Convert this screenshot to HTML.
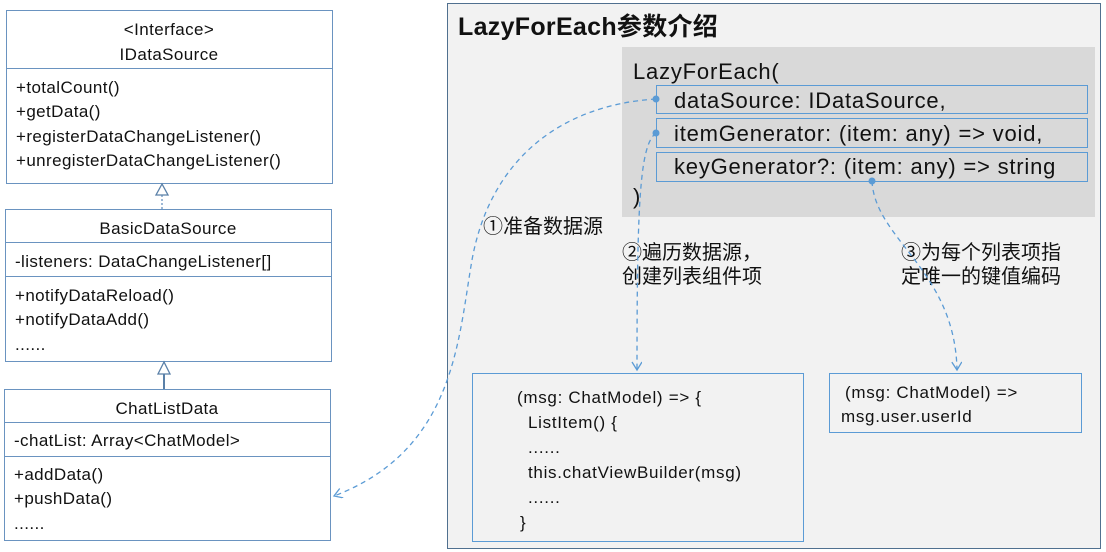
<!DOCTYPE html>
<html><head><meta charset="utf-8"><style>
html,body{margin:0;padding:0;background:#fff;width:1106px;height:552px;overflow:hidden}
svg{position:absolute;left:0;top:0}
text{font-family:"Liberation Sans","Noto Sans CJK SC",sans-serif;fill:#111}
</style></head><body>
<svg width="1106" height="552" viewBox="0 0 1106 552">
<defs>
<marker id="ar" markerWidth="12" markerHeight="12" refX="9" refY="5" orient="auto" markerUnits="userSpaceOnUse">
<path d="M1,0 L9,5 L1,10" fill="none" stroke="#5b9bd5" stroke-width="1.3"/></marker>
</defs>
<g stroke="#6a93c0" stroke-width="1" fill="#fff">
<rect x="6.5" y="10.5" width="326" height="173"/>
<line x1="6" y1="68.5" x2="332" y2="68.5"/>
<rect x="5.5" y="209.5" width="326" height="152"/>
<line x1="5" y1="242.5" x2="331" y2="242.5"/>
<line x1="5" y1="276.5" x2="331" y2="276.5"/>
<rect x="4.5" y="389.5" width="326" height="151"/>
<line x1="4" y1="422.5" x2="330" y2="422.5"/>
<line x1="4" y1="456.5" x2="330" y2="456.5"/>
</g>
<line x1="162" y1="195" x2="162" y2="209" stroke="#6a93c0" stroke-width="1.3" stroke-dasharray="2,2"/>
<path d="M162,184 L156,195 L168,195 Z" fill="#fff" stroke="#5a80a8" stroke-width="1.3"/>
<line x1="164" y1="374" x2="164" y2="389" stroke="#5a80a8" stroke-width="2"/>
<path d="M164,362 L158,374 L170,374 Z" fill="#fff" stroke="#5a80a8" stroke-width="1.3"/>
<g font-size="17" letter-spacing="0.4">
<text x="169" y="35" text-anchor="middle">&lt;Interface&gt;</text>
<text x="169" y="60" text-anchor="middle">IDataSource</text>
<text x="16" y="93">+totalCount()</text>
<text x="16" y="117">+getData()</text>
<text x="16" y="142">+registerDataChangeListener()</text>
<text x="16" y="166">+unregisterDataChangeListener()</text>
<text x="168" y="234" text-anchor="middle">BasicDataSource</text>
<text x="15" y="267">-listeners: DataChangeListener[]</text>
<text x="15" y="301">+notifyDataReload()</text>
<text x="15" y="325">+notifyDataAdd()</text>
<text x="15" y="350">......</text>
<text x="167" y="414" text-anchor="middle">ChatListData</text>
<text x="14" y="446">-chatList: Array&lt;ChatModel&gt;</text>
<text x="14" y="480">+addData()</text>
<text x="14" y="504">+pushData()</text>
<text x="14" y="529">......</text>
</g>
<rect x="447.5" y="3.5" width="653" height="545" fill="#f2f2f2" stroke="#50708f" stroke-width="1"/>
<text x="458" y="35" font-size="25" font-weight="bold" letter-spacing="0.3">LazyForEach参数介绍</text>
<rect x="622" y="47" width="473" height="170" fill="#d9d9d9"/>
<g stroke="#5b9bd5" stroke-width="1" fill="none">
<rect x="656.5" y="85.5" width="431" height="28"/>
<rect x="656.5" y="118.5" width="431" height="29"/>
<rect x="656.5" y="152.5" width="431" height="29"/>
</g>
<g font-size="22" letter-spacing="0.8">
<text x="633" y="79">LazyForEach(</text>
<text x="674" y="108">dataSource: IDataSource,</text>
<text x="674" y="141">itemGenerator: (item: any) =&gt; void,</text>
<text x="674" y="174">keyGenerator?: (item: any) =&gt; string</text>
<text x="633" y="204">)</text>
</g>
<g font-size="20">
<text x="483" y="233">①准备数据源</text>
<text x="622" y="259">②遍历数据源，</text>
<text x="622" y="283">创建列表组件项</text>
<text x="901" y="259">③为每个列表项指</text>
<text x="901" y="283">定唯一的键值编码</text>
</g>
<rect x="472.5" y="373.5" width="331" height="168" fill="#f2f2f2" stroke="#5b9bd5"/>
<rect x="829.5" y="373.5" width="252" height="59" fill="#f2f2f2" stroke="#5b9bd5"/>
<g font-size="17" letter-spacing="0.7">
<text x="517" y="403">(msg: ChatModel) =&gt; {</text>
<text x="528" y="428">ListItem() {</text>
<text x="528" y="453">......</text>
<text x="528" y="478">this.chatViewBuilder(msg)</text>
<text x="528" y="503">......</text>
<text x="520" y="528">}</text>
<text x="845" y="398">(msg: ChatModel) =&gt;</text>
<text x="841" y="422">msg.user.userId</text>
</g>
<g stroke="#5b9bd5" stroke-width="1.3" fill="none" stroke-dasharray="5,4">
<path d="M656,99 C560,105 490,160 472,260 C458,340 455,450 334,496" marker-end="url(#ar)"/>
<path d="M656,133 C640,145 637,200 637,370" marker-end="url(#ar)"/>
<path d="M872,181 C875,240 955,270 957,370" marker-end="url(#ar)"/>
</g>
<g fill="#5b9bd5">
<circle cx="656" cy="99" r="3.5"/>
<circle cx="656" cy="133" r="3.5"/>
<circle cx="872" cy="181" r="3.5"/>
</g>
</svg>
</body></html>
